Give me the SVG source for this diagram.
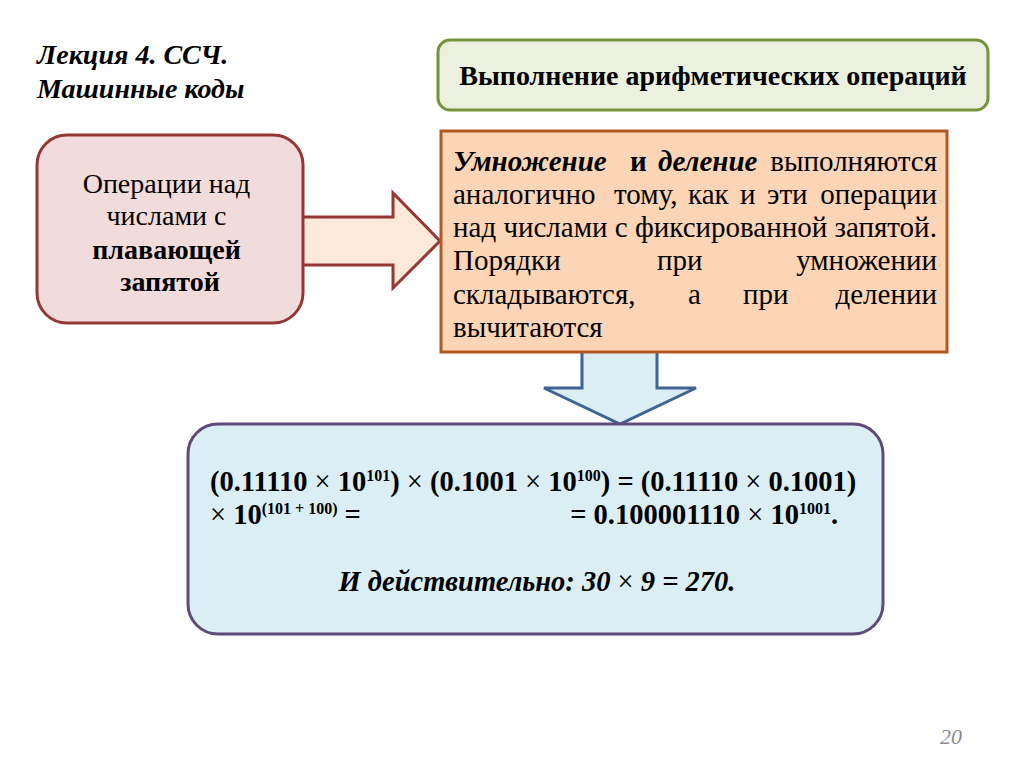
<svg xmlns="http://www.w3.org/2000/svg" width="1024" height="768" viewBox="0 0 1024 768">
<style>
.t{font-family:"Liberation Serif","Times New Roman",serif;fill:#000}
.b{font-weight:bold}
.i{font-style:italic}
.r{font-weight:normal;font-style:normal}
.s{font-size:16px}
</style>
<rect width="1024" height="768" fill="#fff"/>
<g id="title">
<text class="t b i" x="37" y="64" font-size="28">Лекция 4. ССЧ.</text>
<text class="t b i" x="37" y="98" font-size="28">Машинные коды</text>
</g>
<g id="header">
<rect x="438" y="40" width="550" height="70" rx="12" fill="#ebf1de" stroke="#77933c" stroke-width="3"/>
<text class="t b" x="713" y="85" font-size="28" text-anchor="middle">Выполнение арифметических операций</text>
</g>
<g id="connectors">
<path d="M290,217 H393 V193 L440,241 L393,288 V265 H290 Z" fill="#fde9d9" stroke="#953735" stroke-width="3"/>
<path d="M582,345 V388 H544 L620,424 L696,388 H657 V345 Z" fill="#dbeef4" stroke="#3f6496" stroke-width="3"/>
</g>
<g id="floating">
<rect x="37" y="135" width="266" height="188" rx="30" fill="#f2dcdb" stroke="#953735" stroke-width="3"/>
<text class="t" font-size="28" text-anchor="middle">
<tspan x="170" y="193">Операции над</tspan>
<tspan x="170" y="225">числами с</tspan>
<tspan x="170" y="259" class="b">плавающей</tspan>
<tspan x="170" y="291" class="b">запятой</tspan>
</text>
</g>
<g id="muldiv">
<rect x="441" y="131" width="506" height="221" fill="#fbd5b5" stroke="#b05a22" stroke-width="3"/>
<text class="t" font-size="29">
<tspan x="453" y="171" class="b i">Умножение</tspan><tspan x="630" y="171" class="b">и</tspan><tspan x="658" y="171" class="b i">деление</tspan><tspan x="937" y="171" text-anchor="end">выполняются</tspan>
</text>
<text class="t" font-size="29">
<tspan x="453" y="204">аналогично</tspan><tspan x="614" y="204">тому,</tspan><tspan x="688" y="204">как</tspan><tspan x="740" y="204">и</tspan><tspan x="767" y="204">эти</tspan><tspan x="937" y="204" text-anchor="end">операции</tspan>
</text>
<text class="t" font-size="29" x="453" y="237">над числами с фиксированной запятой.</text>
<text class="t" font-size="29">
<tspan x="453" y="270">Порядки</tspan><tspan x="657" y="270">при</tspan><tspan x="937" y="270" text-anchor="end">умножении</tspan>
</text>
<text class="t" font-size="29">
<tspan x="453" y="304">складываются,</tspan><tspan x="688" y="304">а</tspan><tspan x="743" y="304">при</tspan><tspan x="937" y="304" text-anchor="end">делении</tspan>
</text>
<text class="t" font-size="29" x="453" y="337">вычитаются</text>
</g>
<g id="example">
<rect x="188" y="424" width="695" height="210" rx="30" fill="#dbeef4" stroke="#604a7b" stroke-width="3"/>
<text class="t b" font-size="28.5" x="210" y="491">(0.11110 <tspan class="r">×</tspan> 10<tspan class="s" dy="-10">101</tspan><tspan dy="10">) </tspan><tspan class="r">×</tspan> (0.1001 <tspan class="r">×</tspan> 10<tspan class="s" dy="-10">100</tspan><tspan dy="10">) = (0.11110 </tspan><tspan class="r">×</tspan> 0.1001)</text>
<text class="t b" font-size="28.5" x="210" y="524"><tspan class="r">×</tspan> 10<tspan class="s" dy="-10">(101 + 100)</tspan><tspan dy="10"> =</tspan></text>
<text class="t b" font-size="28.5" x="838" y="524" text-anchor="end">= 0.100001110 <tspan class="r">×</tspan> 10<tspan class="s" dy="-10">1001</tspan><tspan dy="10">.</tspan></text>
<text class="t b i" font-size="28.5" x="537" y="591" text-anchor="middle">И действительно: 30 <tspan class="r">×</tspan> 9 = 270.</text>
</g>
<text class="t i" x="951" y="744" font-size="22" style="fill:#8c8c8c" text-anchor="middle">20</text>
</svg>
